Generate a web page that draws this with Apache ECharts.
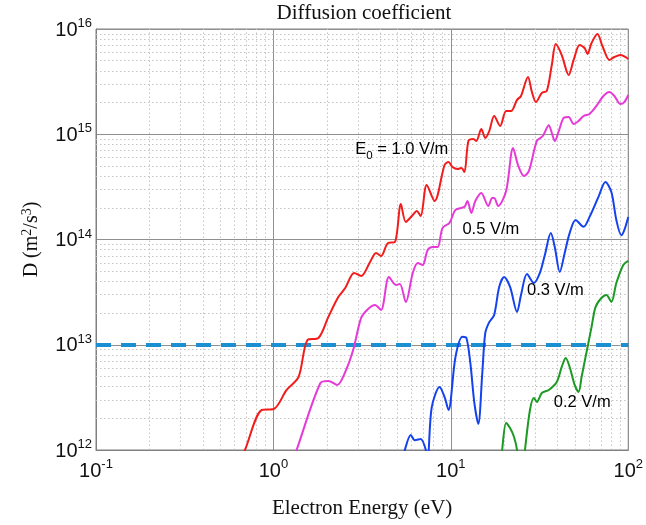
<!DOCTYPE html>
<html>
<head>
<meta charset="utf-8">
<script src="https://cdn.jsdelivr.net/npm/echarts@6/dist/echarts.min.js"></script>
<style>html,body{margin:0;padding:0;background:#fff;}#c{width:646px;height:525px;}</style>
</head>
<body>
<div id="c"></div>
<script>
// ---- data ----
const redE = [0.615,0.691,0.860,1.004,1.187,1.386,1.556,1.794,2.040,2.321,2.540,2.852,3.122,3.505,3.787,4.040,4.421,4.838,5.228,5.574,6.101,6.423,6.763,7.307,8.101,9.216,9.703,10.21,10.90,11.47,11.93,12.56,13.39,13.92,14.85,15.63,16.46,17.55,18.97,20.49,21.85,23.61,24.86,27.21,28.64,30.16,32.58,34.75,37.07,39.03,42.17,46.15,49.22,53.19,56.72,58.96,62.09,67.06,71.51,78.29,83.49,90.22,100];
const redD = [6.46e11,1.0e12,2.40e12,2.45e12,3.72e12,4.94e12,1.11e13,1.16e13,1.84e13,2.84e13,3.46e13,4.81e13,4.50e13,6.11e13,7.45e13,6.97e13,9.27e13,9.47e13,2.17e14,1.47e14,1.71e14,1.87e14,1.67e14,3.30e14,2.32e14,5.10e14,5.45e14,4.89e14,4.68e14,4.78e14,4.38e14,8.63e14,9.02e14,8.63e14,1.12e15,9.21e14,1.07e15,1.49e15,1.20e15,1.66e15,1.66e15,2.12e15,2.31e15,3.50e15,2.52e15,2.02e15,2.47e15,2.58e15,4.55e15,7.20e15,5.66e15,3.66e15,5.08e15,7.05e15,6.60e15,5.79e15,7.36e15,8.96e15,6.89e15,5.08e15,5.42e15,5.66e15,5.19e15];

const magE = [1.234,1.351,1.840,2.040,2.291,2.540,2.816,3.122,3.417,3.739,4.040,4.478,4.901,5.161,5.574,6.101,6.506,6.939,7.402,7.895,8.421,8.981,9.829,10.62,11.93,12.40,13.05,13.74,14.85,16.25,17.11,17.55,18.48,20.49,22.42,23.91,25.84,27.56,30.55,33.01,35.66,37.07,38.53,40.57,43.27,46.15,49.22,52.50,55.99,60.51,66.20,72.44,78.29,83.49,90.22,94.97,100];
const magD = [6.46e11,1.0e12,4.33e12,4.53e12,4.15e12,5.51e12,8.91e12,1.80e13,2.19e13,2.39e13,2.14e13,4.40e13,3.70e13,3.78e13,2.55e13,4.81e13,5.98e13,5.73e13,7.94e13,8.49e13,8.49e13,1.29e14,1.44e14,1.91e14,2.04e14,2.32e14,1.79e14,2.32e14,2.77e14,2.08e14,2.48e14,2.48e14,2.08e14,2.89e14,7.40e14,5.10e14,4.01e14,4.48e14,8.63e14,9.62e14,1.22e15,1.03e15,8.63e14,1.07e15,1.43e15,1.46e15,1.25e15,1.34e15,1.49e15,1.56e15,1.86e15,2.31e15,2.52e15,2.31e15,1.94e15,2.02e15,2.36e15];

const blueE = [5.161,5.503,5.946,6.261,6.763,7.307,7.402,7.794,8.641,9.216,9.703,10.62,11.62,12.24,12.88,13.57,14.28,15.04,15.63,16.46,17.55,18.73,19.97,21.57,23.61,24.86,26.86,29.40,31.76,33.87,36.60,38.53,41.10,43.83,46.74,50.50,55.99,60.51,67.92,74.33,80.32,85.67,91.37,94.97,100];
const blueD = [6.46e11,1.0e12,1.39e12,1.24e12,1.27e12,9.36e11,7.69e11,2.51e12,3.97e12,3.19e12,2.40e12,7.65e12,1.19e13,1.16e13,6.71e12,2.80e12,1.77e12,5.39e12,1.29e13,1.64e13,1.92e13,3.54e13,4.40e13,3.54e13,2.05e13,2.97e13,4.70e13,3.86e13,4.81e13,7.13e13,1.15e14,8.49e13,4.91e13,7.45e13,1.15e14,1.53e14,1.32e14,1.64e14,2.54e14,3.52e14,2.83e14,1.53e14,1.10e14,1.23e14,1.64e14];

const greenE = [18.97,19.46,20.49,21.57,22.71,23.61,24.23,25.51,26.17,27.92,29.40,30.55,32.58,35.66,39.54,42.17,44.40,46.74,49.86,52.50,54.57,58.20,62.09,65.37,70.59,75.30,80.32,85.67,93.76,100];
const greenD = [6.46e11,1.0e12,1.81e12,1.62e12,1.33e12,1.0e12,6.46e11,6.46e11,1.0e12,2.40e12,3.12e12,2.86e12,3.48e12,3.72e12,4.43e12,6.15e12,7.48e12,6.15e12,4.15e12,3.56e12,4.94e12,8.53e12,1.47e13,2.28e13,2.78e13,2.97e13,2.55e13,3.86e13,5.73e13,6.25e13];

const threshold = 1e13;
const seriesNames = ['E0 = 1.0 V/m', '0.5 V/m', '0.3 V/m', '0.2 V/m'];
// annotation anchors (energy, D) for curve labels
const labelE = [2.89, 11.62, 26.86, 38.03];
const labelD = [7.08e14, 1.23e14, 3.24e13, 2.80e12];

const xMin = 0.1, xMax = 100, yMin = 1e12, yMax = 1e16;

// ---- helpers ----
function zip(a, b) { return a.map((v, i) => [v, b[i]]); }
function minorLines(lo, hi, key) {
  const out = [];
  for (let d = Math.round(Math.log10(lo)); d < Math.round(Math.log10(hi)); d++) {
    for (let m = 2; m <= 9; m++) { const o = {}; o[key] = m * Math.pow(10, d); out.push(o); }
  }
  return out;
}
const supRich = {
  b: { fontFamily: 'Liberation Sans, Arial', fontSize: 20, color: '#111', verticalAlign: 'bottom', lineHeight: 22 },
  s: { fontFamily: 'Liberation Sans, Arial', fontSize: 13, color: '#111', verticalAlign: 'bottom', lineHeight: 22, padding: [0, 0, 10, 0] }
};
function powLabel(v) { const e = Math.round(Math.log10(v)); return '{b|10}{s|' + e + '}'; }

const chart = echarts.init(document.getElementById('c'), null, { renderer: 'canvas' });
const minorStyle = { color: '#c4c4c4', width: 1, type: [1.5, 2.5] };
const SMOOTH = 0.3;

const option = {
  animation: false,
  backgroundColor: '#ffffff',
  grid: { left: 96, right: 14, top: 29, bottom: 75, show: true, borderColor: '#808080', borderWidth: 1, backgroundColor: 'transparent' },
  xAxis: {
    type: 'log', logBase: 10, min: xMin, max: xMax,
    name: 'Electron Energy (eV)', nameLocation: 'middle', nameGap: 48,
    nameTextStyle: { fontFamily: 'Liberation Serif, Times New Roman', fontSize: 21, color: '#111' },
    axisLine: { lineStyle: { color: '#808080' } },
    axisTick: { show: false },
    axisLabel: { formatter: powLabel, rich: supRich, margin: 9 },
    splitLine: { show: true, lineStyle: { color: '#909090', width: 1 } }
  },
  yAxis: {
    type: 'log', logBase: 10, min: yMin, max: yMax,
    name: 'D (m{s|2}/s{s|3})', nameLocation: 'middle', nameGap: 53, nameRotate: 90,
    nameTextStyle: {
      fontFamily: 'Liberation Serif, Times New Roman', fontSize: 20, color: '#111',
      rich: {
        s: { fontFamily: 'Liberation Serif, Times New Roman', fontSize: 14, color: '#111', verticalAlign: 'bottom', lineHeight: 22, padding: [0, 0, 9, 0] }
      }
    },
    axisLine: { lineStyle: { color: '#808080' } },
    axisTick: { show: false },
    axisLabel: { formatter: powLabel, rich: supRich, margin: 4 },
    splitLine: { show: true, lineStyle: { color: '#909090', width: 1 } }
  },
  series: [
    {
      type: 'line', data: [], silent: true, z: 1,
      markLine: {
        silent: true, symbol: ['none', 'none'], label: { show: false },
        lineStyle: minorStyle, animation: false,
        data: minorLines(xMin, xMax, 'xAxis').concat(minorLines(yMin, yMax, 'yAxis'))
      }
    },
    {
      type: 'line', data: [], silent: true, z: 2,
      markLine: {
        silent: true, symbol: ['none', 'none'], label: { show: false }, animation: false,
        lineStyle: { color: '#1b8fd2', width: 4, type: [15, 10] },
        data: [{ yAxis: threshold }]
      }
    },
    { name: seriesNames[0], type: 'line', data: zip(redE, redD), smooth: SMOOTH, showSymbol: false, clip: true, z: 5, lineStyle: { color: '#f21c1c', width: 2 } },
    { name: seriesNames[1], type: 'line', data: zip(magE, magD), smooth: SMOOTH, showSymbol: false, clip: true, z: 5, lineStyle: { color: '#e63ad8', width: 2 } },
    { name: seriesNames[2], type: 'line', data: zip(blueE, blueD), smooth: SMOOTH, showSymbol: false, clip: true, z: 5, lineStyle: { color: '#1443ee', width: 2 } },
    { name: seriesNames[3], type: 'line', data: zip(greenE, greenD), smooth: SMOOTH, showSymbol: false, clip: true, z: 5, lineStyle: { color: '#1c9a24', width: 2 } }
  ]
};
chart.setOption(option);

// title and curve labels
const gfx = [{ type: 'text', x: 364, y: 3, z: 10, style: { text: 'Diffusion coefficient', fontFamily: 'Liberation Serif, Times New Roman', fontSize: 21, fill: '#111', textAlign: 'center' } }];
const labRich = {
  b: { fontFamily: 'Liberation Sans, Arial', fontSize: 16.5, color: '#111', verticalAlign: 'top', lineHeight: 18 },
  u: { fontFamily: 'Liberation Sans, Arial', fontSize: 11.5, color: '#111', verticalAlign: 'top', lineHeight: 18, padding: [9, 0, 0, 0] }
};
const labTexts = ['{b|E}{u|0}{b| = 1.0 V/m}', '{b|0.5 V/m}', '{b|0.3 V/m}', '{b|0.2 V/m}'];
labelE.forEach((e, i) => {
  const p = chart.convertToPixel({ gridIndex: 0 }, [e, labelD[i]]);
  gfx.push({ type: 'text', x: p[0], y: p[1] - 9, z: 10, style: { text: labTexts[i], rich: labRich, textAlign: 'left' } });
});
chart.setOption({ graphic: gfx });
</script>
</body>
</html>
